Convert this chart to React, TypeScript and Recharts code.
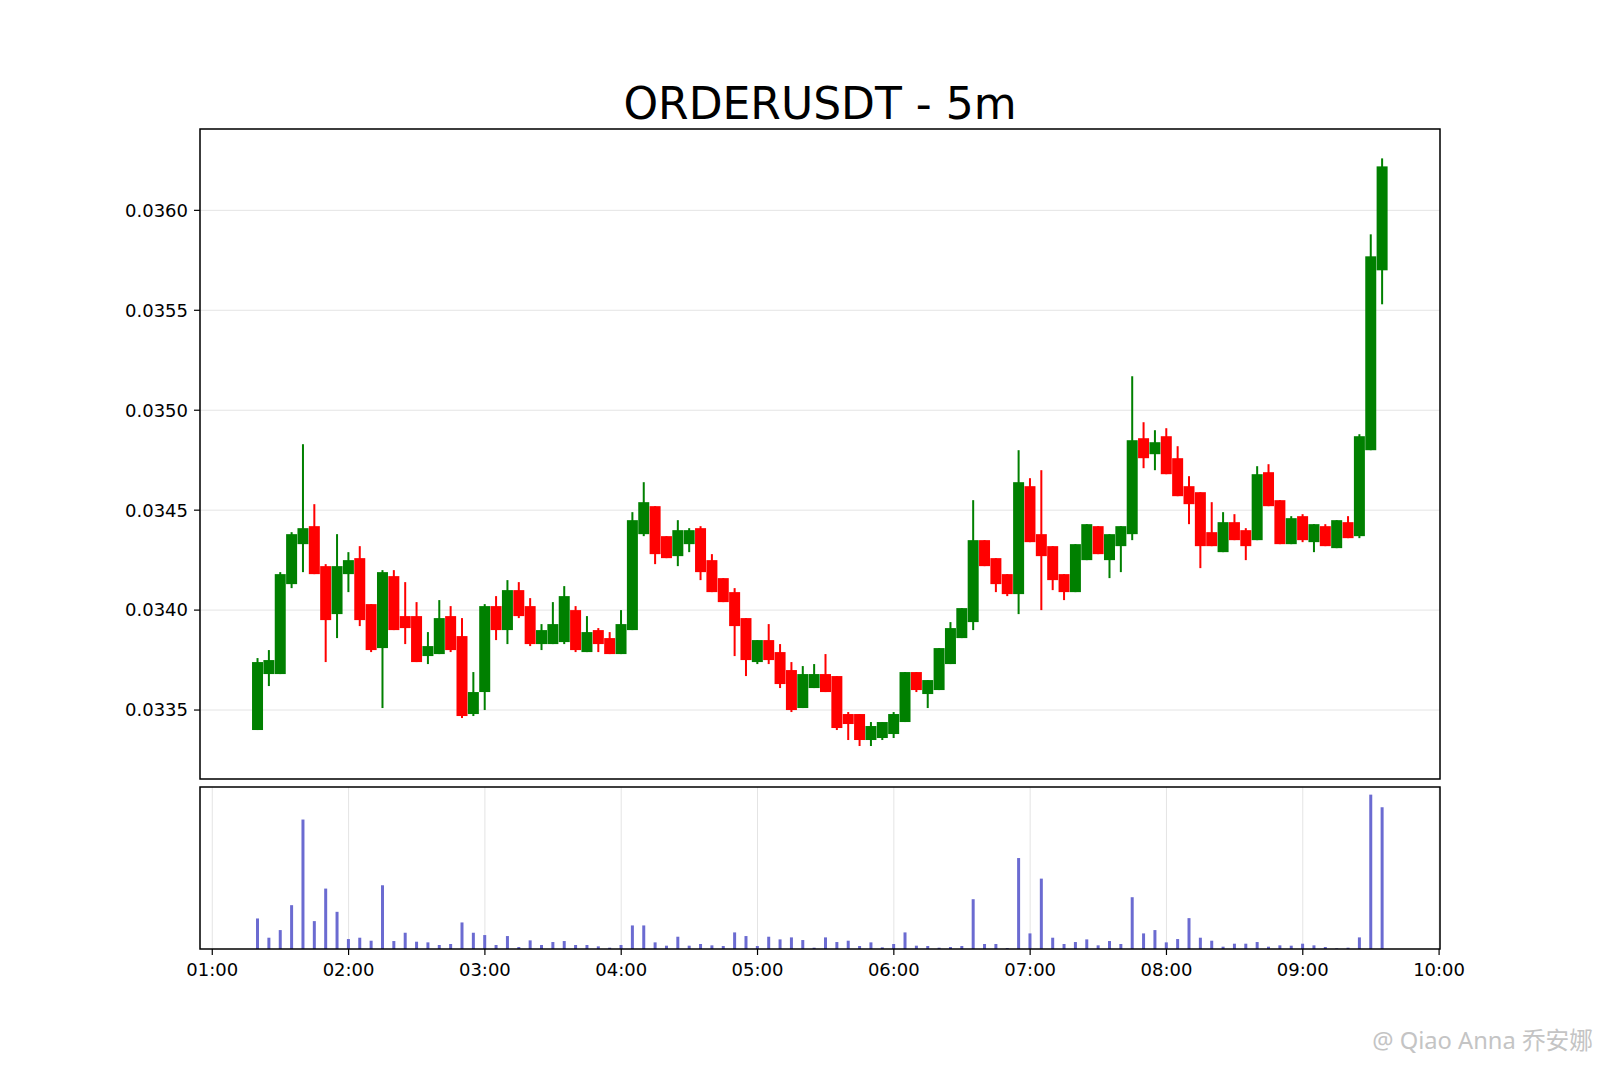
import React from "react";
import { ComposedChart, Bar, XAxis, YAxis, CartesianGrid } from "recharts";

// 5-minute candles, 01:20 .. 09:35
const times = [
  "01:20", "01:25", "01:30", "01:35", "01:40", "01:45", "01:50", "01:55",
  "02:00", "02:05", "02:10", "02:15", "02:20", "02:25", "02:30", "02:35", "02:40", "02:45", "02:50", "02:55",
  "03:00", "03:05", "03:10", "03:15", "03:20", "03:25", "03:30", "03:35", "03:40", "03:45", "03:50", "03:55",
  "04:00", "04:05", "04:10", "04:15", "04:20", "04:25", "04:30", "04:35", "04:40", "04:45", "04:50", "04:55",
  "05:00", "05:05", "05:10", "05:15", "05:20", "05:25", "05:30", "05:35", "05:40", "05:45", "05:50", "05:55",
  "06:00", "06:05", "06:10", "06:15", "06:20", "06:25", "06:30", "06:35", "06:40", "06:45", "06:50", "06:55",
  "07:00", "07:05", "07:10", "07:15", "07:20", "07:25", "07:30", "07:35", "07:40", "07:45", "07:50", "07:55",
  "08:00", "08:05", "08:10", "08:15", "08:20", "08:25", "08:30", "08:35", "08:40", "08:45", "08:50", "08:55",
  "09:00", "09:05", "09:10", "09:15", "09:20", "09:25", "09:30", "09:35",
];

const opens = [
  0.0334, 0.03368, 0.03368, 0.03413, 0.03433, 0.03442, 0.03422, 0.03398, 0.03418, 0.03426,
  0.03403, 0.03381, 0.03417, 0.03397, 0.03397, 0.03377, 0.03378, 0.03397, 0.03387, 0.03348,
  0.03359, 0.03402, 0.0339, 0.0341, 0.03402, 0.03383, 0.03383, 0.03384, 0.034, 0.03379,
  0.0339, 0.03386, 0.03378, 0.0339, 0.03438, 0.03452, 0.03437, 0.03427, 0.03433, 0.03441,
  0.03425, 0.03416, 0.03409, 0.03396, 0.03374, 0.03385, 0.03379, 0.0337, 0.03351, 0.03361,
  0.03368, 0.03367, 0.03348, 0.03348, 0.03335, 0.03336, 0.03338, 0.03344, 0.03369, 0.03358,
  0.0336, 0.03373, 0.03386, 0.03394, 0.03435, 0.03426, 0.03418, 0.03408, 0.03462, 0.03438,
  0.03432, 0.03418, 0.03409, 0.03425, 0.03442, 0.03425, 0.03432, 0.03438, 0.03486, 0.03478,
  0.03487, 0.03476, 0.03462, 0.03459, 0.03439, 0.03429, 0.03444, 0.0344, 0.03435, 0.03469,
  0.03455, 0.03433, 0.03447, 0.03434, 0.03442, 0.03431, 0.03444, 0.03437, 0.0348, 0.0357,
];

const highs = [
  0.03376, 0.0338, 0.03419, 0.03439, 0.03483, 0.03453, 0.03423, 0.03438, 0.03429, 0.03432,
  0.03403, 0.0342, 0.0342, 0.03414, 0.03404, 0.03389, 0.03405, 0.03402, 0.03396, 0.03369,
  0.03403, 0.03407, 0.03415, 0.03414, 0.03406, 0.03393, 0.03404, 0.03412, 0.03402, 0.03397,
  0.03391, 0.03389, 0.034, 0.03449, 0.03464, 0.03452, 0.03437, 0.03445, 0.03441, 0.03442,
  0.03428, 0.03416, 0.03411, 0.03396, 0.03385, 0.03393, 0.03383, 0.03374, 0.03372, 0.03373,
  0.03378, 0.03367, 0.03349, 0.03348, 0.03344, 0.03344, 0.03349, 0.03369, 0.03369, 0.03365,
  0.03381, 0.03394, 0.03401, 0.03455, 0.03435, 0.03426, 0.03418, 0.0348, 0.03466, 0.0347,
  0.03432, 0.03418, 0.03433, 0.03443, 0.03442, 0.03438, 0.03442, 0.03517, 0.03494, 0.0349,
  0.03491, 0.03482, 0.03467, 0.03459, 0.03454, 0.03449, 0.03448, 0.03441, 0.03472, 0.03473,
  0.03455, 0.03447, 0.03448, 0.03443, 0.03443, 0.03445, 0.03447, 0.03488, 0.03588, 0.03626,
];

const lows = [
  0.0334, 0.03362, 0.03368, 0.03411, 0.03419, 0.03418, 0.03374, 0.03386, 0.03409, 0.03392,
  0.03379, 0.03351, 0.0339, 0.03383, 0.03374, 0.03373, 0.03378, 0.03379, 0.03346, 0.03347,
  0.0335, 0.03385, 0.03383, 0.03396, 0.03382, 0.0338, 0.03383, 0.03383, 0.03379, 0.03379,
  0.03379, 0.03378, 0.03378, 0.0339, 0.03437, 0.03423, 0.03426, 0.03422, 0.03429, 0.03415,
  0.03409, 0.03404, 0.03377, 0.03367, 0.03373, 0.03373, 0.03361, 0.03349, 0.03351, 0.03361,
  0.03359, 0.0334, 0.03335, 0.03332, 0.03332, 0.03335, 0.03336, 0.03344, 0.03359, 0.03351,
  0.0336, 0.03373, 0.03386, 0.0339, 0.03422, 0.03409, 0.03407, 0.03398, 0.03434, 0.034,
  0.0341, 0.03405, 0.03409, 0.03425, 0.03428, 0.03416, 0.03419, 0.03435, 0.03471, 0.0347,
  0.03468, 0.03457, 0.03443, 0.03421, 0.03432, 0.03429, 0.03435, 0.03425, 0.03435, 0.03452,
  0.03433, 0.03433, 0.03434, 0.03429, 0.03432, 0.03431, 0.03436, 0.03436, 0.0348, 0.03553,
];

const closes = [
  0.03374, 0.03375, 0.03418, 0.03438, 0.03441, 0.03418, 0.03395, 0.03422, 0.03425, 0.03395,
  0.0338, 0.03419, 0.0339, 0.03391, 0.03374, 0.03382, 0.03396, 0.0338, 0.03347, 0.03359,
  0.03402, 0.0339, 0.0341, 0.03397, 0.03383, 0.0339, 0.03393, 0.03407, 0.0338, 0.03389,
  0.03383, 0.03378, 0.03393, 0.03445, 0.03454, 0.03428, 0.03426, 0.0344, 0.0344, 0.03419,
  0.03409, 0.03404, 0.03392, 0.03375, 0.03385, 0.03375, 0.03363, 0.0335, 0.03368, 0.03368,
  0.03359, 0.03341, 0.03343, 0.03335, 0.03342, 0.03344, 0.03348, 0.03369, 0.0336, 0.03365,
  0.03381, 0.03391, 0.03401, 0.03435, 0.03422, 0.03413, 0.03408, 0.03464, 0.03434, 0.03427,
  0.03415, 0.03409, 0.03433, 0.03443, 0.03428, 0.03438, 0.03442, 0.03485, 0.03476, 0.03484,
  0.03468, 0.03457, 0.03453, 0.03432, 0.03432, 0.03444, 0.03435, 0.03432, 0.03468, 0.03452,
  0.03433, 0.03446, 0.03435, 0.03443, 0.03432, 0.03445, 0.03436, 0.03487, 0.03577, 0.03622,
];

const volumes = [
  92, 34, 57, 132, 390, 84, 182, 112, 30, 34,
  25, 192, 24, 49, 22, 20, 12, 15, 80, 49,
  42, 12, 39, 6, 26, 12, 21, 24, 12, 12,
  8, 4, 12, 71, 71, 20, 10, 37, 10, 15,
  11, 9, 50, 39, 9, 37, 29, 35, 27, 4,
  35, 21, 25, 9, 20, 5, 15, 50, 10, 9,
  4, 6, 9, 150, 15, 15, 3, 274, 47, 212,
  34, 15, 21, 29, 11, 24, 15, 156, 47, 57,
  20, 30, 93, 34, 25, 7, 16, 16, 21, 7,
  11, 10, 16, 11, 6, 2, 4, 35, 465, 427,
];

const hourTicks = [60, 120, 180, 240, 300, 360, 420, 480, 540, 600];
const priceTicks = [0.0335, 0.034, 0.0345, 0.035, 0.0355, 0.036];

const GREEN = "#008000";
const RED = "#ff0000";
const VOL = "#6b6bd1";
const GRID = "#e4e4e4";
const FONT = "'DejaVu Sans', sans-serif";

const toMinutes = (t: string) => {
  const [h, m] = t.split(":").map(Number);
  return h * 60 + m;
};

const candles = times.map((t, i) => ({
  t: toMinutes(t),
  open: opens[i],
  high: highs[i],
  low: lows[i],
  close: closes[i],
  range: [lows[i], highs[i]],
  volume: volumes[i],
}));

function fmtHour(v: number) {
  const h = Math.floor(v / 60);
  return `${String(h).padStart(2, "0")}:00`;
}

function Candle(props: any) {
  const { x, y, width, height, payload } = props;
  if (x == null || y == null || !payload) return null;

  const top = Math.min(y, y + height);
  const h = Math.abs(height);
  const span = payload.high - payload.low;
  const k = span > 0 ? h / span : 0;
  const py = (v: number) => top + (payload.high - v) * k;

  const color = payload.close >= payload.open ? GREEN : RED;
  const cx = x + width / 2;
  const bTop = py(Math.max(payload.open, payload.close));
  const bBot = py(Math.min(payload.open, payload.close));

  return (
    <g>
      <rect x={cx - 1} y={top} width={2} height={h} fill={color} />
      <rect
        x={x}
        y={bTop}
        width={width}
        height={Math.max(bBot - bTop, 1)}
        fill={color}
      />
    </g>
  );
}

const X_DOMAIN: [number, number] = [54.6, 600.4];
const tickStyle = { fontSize: 18, fill: "#000", fontFamily: FONT };

export default function App() {
  return (
    <div style={{ position: "absolute", left: 0, top: 0, width: 1600, height: 1066, background: "#fff" }}>
      <div style={{ position: "absolute", left: 0, top: 0 }}>
        <ComposedChart
          width={1600}
          height={790}
          data={candles}
          margin={{ top: 129, right: 160, left: 0, bottom: 11 }}
        >
          <CartesianGrid stroke={GRID} strokeWidth={1} />
          <XAxis
            dataKey="t"
            type="number"
            domain={X_DOMAIN}
            ticks={hourTicks}
            allowDataOverflow
            height={0}
            tick={false}
            axisLine={false}
            tickLine={false}
          />
          <YAxis
            type="number"
            width={200}
            domain={[0.033155, 0.036407]}
            ticks={priceTicks}
            allowDataOverflow
            tickFormatter={(v: number) => v.toFixed(4)}
            tick={tickStyle}
            tickSize={6}
            tickMargin={6}
            tickLine={{ stroke: "#000", strokeWidth: 1.2 }}
            axisLine={false}
          />
          <Bar
            dataKey="range"
            barSize={11}
            shape={(p: any) => <Candle {...p} />}
            isAnimationActive={false}
          />
        </ComposedChart>
      </div>

      <div style={{ position: "absolute", left: 0, top: 0 }}>
        <ComposedChart
          width={1600}
          height={1066}
          data={candles}
          margin={{ top: 787, right: 160, left: 200, bottom: 77 }}
        >
          <CartesianGrid stroke={GRID} strokeWidth={1} horizontal={false} />
          <XAxis
            dataKey="t"
            type="number"
            domain={X_DOMAIN}
            ticks={hourTicks}
            allowDataOverflow
            height={40}
            tickFormatter={fmtHour}
            tick={tickStyle}
            tickSize={6}
            tickMargin={8}
            tickLine={{ stroke: "#000", strokeWidth: 1.2 }}
            axisLine={false}
          />
          <YAxis hide type="number" domain={[0, 488]} />
          <Bar
            dataKey="volume"
            barSize={3}
            fill={VOL}
            isAnimationActive={false}
          />
        </ComposedChart>
      </div>

      <svg
        width={1600}
        height={1066}
        style={{ position: "absolute", left: 0, top: 0, pointerEvents: "none" }}
      >
        <text
          x={820}
          y={118.5}
          textAnchor="middle"
          fontFamily={FONT}
          fontSize={44}
          fill="#000"
        >
          ORDERUSDT - 5m
        </text>
        <rect x={200} y={129} width={1240} height={650} fill="none" stroke="#000" strokeWidth={1.5} />
        <rect x={200} y={787} width={1240} height={162} fill="none" stroke="#000" strokeWidth={1.5} />
        <text
          x={1593}
          y={1049}
          textAnchor="end"
          fontFamily="'Noto Sans', 'Noto Sans CJK SC', sans-serif"
          fontSize={23.7}
          fill="#c4c4c4"
        >
          @ Qiao Anna 乔安娜
        </text>
      </svg>
    </div>
  );
}
